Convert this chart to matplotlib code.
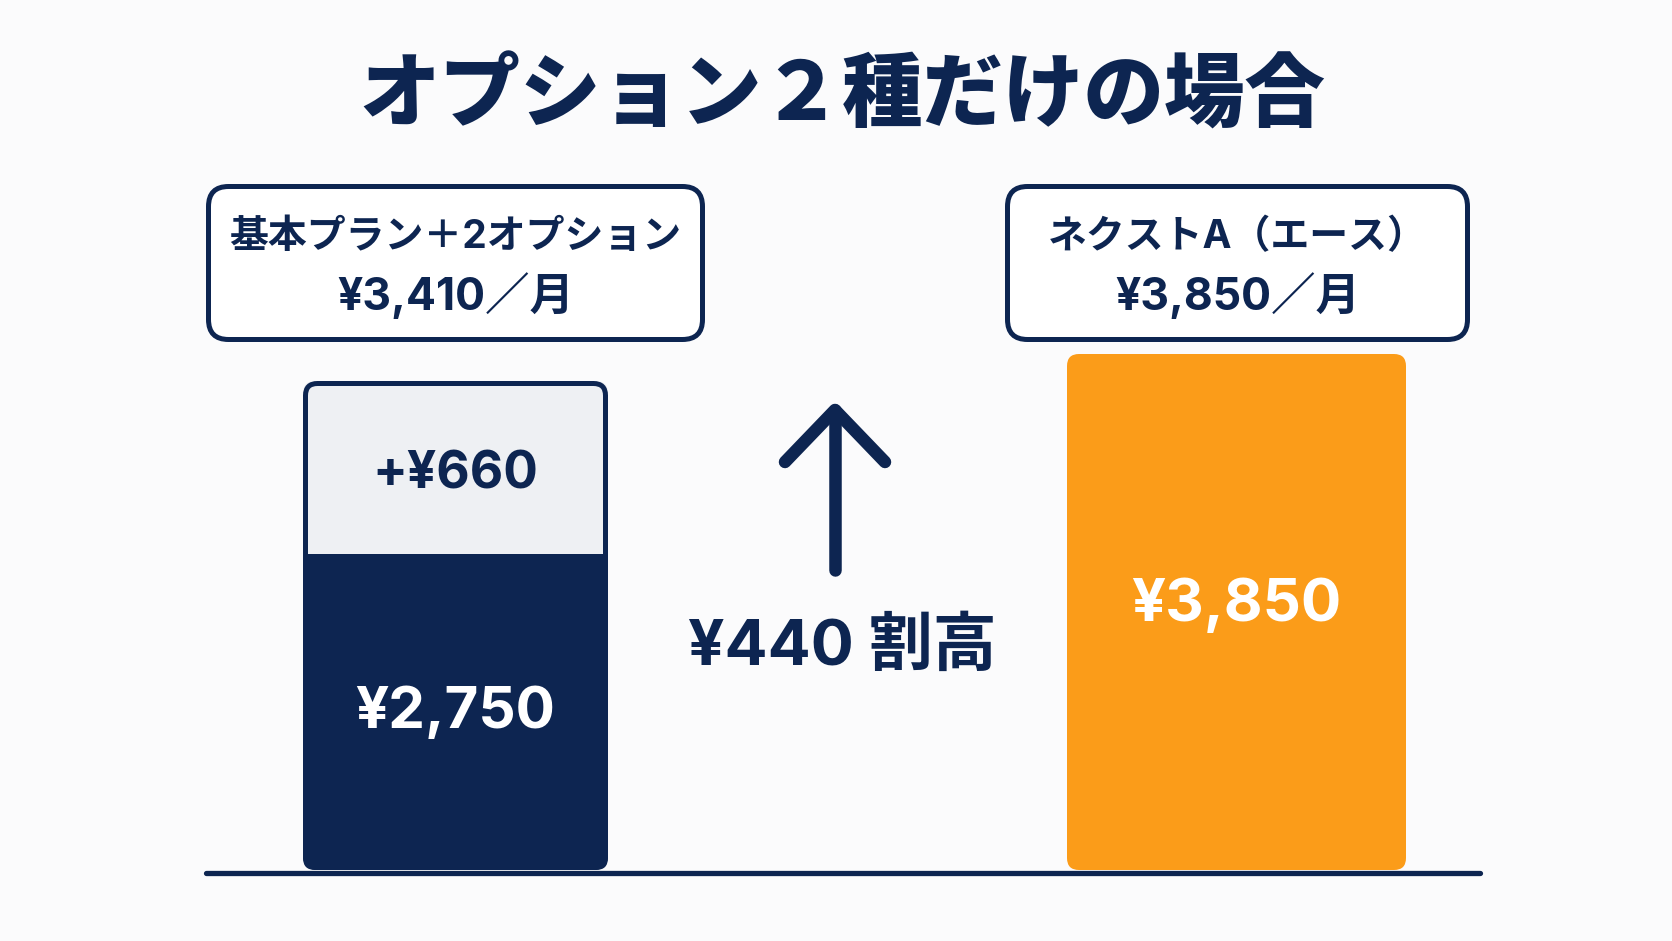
import numpy as np
import matplotlib
matplotlib.use("Agg")
import matplotlib.pyplot as plt
from matplotlib.patches import FancyBboxPatch, Rectangle

plt.rcParams['font.family'] = ['Noto Sans CJK JP', 'DejaVu Sans']
MIX = ['Inter', 'Noto Sans CJK JP', 'DejaVu Sans']

# ---------------- data ----------------
title = "オプション２種だけの場合"
plan_names = ["基本プラン＋2オプション", "ネクストA（エース）"]
base_price = 2750
option_price = 660
nexta_price = 3850
totals = [base_price + option_price, nexta_price]
diff_label_suffix = "割高"

# ---------------- style ----------------
NAVY = "#0d2551"
ORANGE = "#fb9c19"
LIGHT = "#eef0f3"
BG = "#fbfbfc"
W, H = 1672, 941
DPI = 100

fig = plt.figure(figsize=(W / DPI, H / DPI), dpi=DPI, facecolor=BG)

# data axes for bars
ax_left, ax_right, ax_bottom, ax_top = 204, 1482, 870, 354  # pixel frame (from top)
ax = fig.add_axes([ax_left / W, (H - ax_bottom) / H,
                   (ax_right - ax_left) / W, (ax_bottom - ax_top) / H])
ax.set_facecolor("none")

# presentation scale (bars in the reference are not drawn proportionally)
vals_k = [0, base_price, totals[0], nexta_price]
pix_k = [0, 316, 489, 516]
fwd = lambda v: np.interp(v, vals_k, pix_k)
inv = lambda p: np.interp(p, pix_k, vals_k)
ax.set_yscale('function', functions=(fwd, inv))
ax.set_ylim(0, nexta_price)

xpos = np.array([0.0, 1.0])
unit = 781.0
ax.set_xlim(-(455.5 - ax_left) / unit, 1 + (ax_right - 1236.5) / unit)
widths = [305 / unit, 339 / unit]

b_base = ax.bar(xpos[0], base_price, width=widths[0], color=NAVY)
b_opt = ax.bar(xpos[0], option_price, bottom=base_price, width=widths[0], color=LIGHT)
b_next = ax.bar(xpos[1], nexta_price, width=widths[1], color=ORANGE)
ax.axis("off")

# overlay axes in pixel coords (y down)
ov = fig.add_axes([0, 0, 1, 1], zorder=5)
ov.set_xlim(0, W)
ov.set_ylim(H, 0)
ov.axis("off")
ov.patch.set_alpha(0)


def px(x, y):
    d = ax.transData.transform((x, y))
    return d[0], H - d[1]


def bar_box(rect):
    x0, y0 = rect.get_x(), rect.get_y()
    x1, y1 = x0 + rect.get_width(), y0 + rect.get_height()
    l, b = px(x0, y0)
    r, t = px(x1, y1)
    return l, t, r, b


# replace rectangles by rounded shapes
for c in (b_base, b_opt, b_next):
    for r in c:
        r.set_visible(False)

rad = 12
# left stacked bar
l, t, r, b = bar_box(b_opt[0])
lb, tb, rb, bb = bar_box(b_base[0])
ov.add_patch(FancyBboxPatch((l, t), r - l, bb - t,
                            boxstyle=f"round,pad=0,rounding_size={rad}",
                            fc=LIGHT, ec="none", zorder=2))
ov.add_patch(FancyBboxPatch((lb, tb), rb - lb, bb - tb,
                            boxstyle=f"round,pad=0,rounding_size={rad}",
                            fc=NAVY, ec="none", zorder=3))
ov.add_patch(Rectangle((lb, tb), rb - lb, 2 * rad, fc=NAVY, ec="none", zorder=3))
ov.add_patch(FancyBboxPatch((l + 2.5, t + 2.5), r - l - 5, bb - t - 5,
                            boxstyle=f"round,pad=0,rounding_size={rad}",
                            fc="none", ec=NAVY, lw=3.6, zorder=4))
# right bar
l2, t2, r2, b2 = bar_box(b_next[0])
ov.add_patch(FancyBboxPatch((l2, t2), r2 - l2, b2 - t2,
                            boxstyle=f"round,pad=0,rounding_size={rad}",
                            fc=ORANGE, ec="none", zorder=2))

# baseline
ov.plot([ax_left + 2, ax_right - 2], [872.5, 872.5], color=NAVY, lw=3.8,
        solid_capstyle="round", zorder=6)

# value labels inside bars
ov.text((l + r) / 2, (t + tb) / 2 + 7, f"+¥{option_price:,}", ha="center", va="center",
        fontsize=37, fontweight="bold", color=NAVY, family=MIX, zorder=7)
ov.text((lb + rb) / 2, (tb + bb) / 2 + 1, f"¥{base_price:,}", ha="center", va="center",
        fontsize=42, fontweight="bold", color="white", family=MIX, zorder=7)
ov.text((l2 + r2) / 2, (t2 + b2) / 2 - 7, f"¥{nexta_price:,}", ha="center", va="center",
        fontsize=43, fontweight="bold", color="white", family=MIX, zorder=7)

# label boxes
boxes = [(206, 184, 705, 342), (1005, 184, 1470, 342)]
for (bx0, by0, bx1, by1), name, tot in zip(boxes, plan_names, totals):
    ov.add_patch(FancyBboxPatch((bx0 + 2.5, by0 + 2.5), bx1 - bx0 - 5, by1 - by0 - 5,
                                boxstyle="round,pad=0,rounding_size=20",
                                fc="white", ec=NAVY, lw=3.6, zorder=4))
    cx = (bx0 + bx1) / 2
    ov.text(cx, 237, name, ha="center", va="center", fontsize=28,
            fontweight="bold", color=NAVY, family=MIX, zorder=7)
    ov.text(cx, 296, f"¥{tot:,}／月", ha="center", va="center", fontsize=32,
            fontweight="bold", color=NAVY, family=MIX, zorder=7)

# arrow + difference
ax_c = 835
ov.plot([ax_c, ax_c], [570, 410], color=NAVY, lw=9, solid_capstyle="round", zorder=6)
ov.plot([785, ax_c, 885], [462, 410, 462], color=NAVY, lw=9,
        solid_capstyle="round", solid_joinstyle="round", zorder=6)
ov.text(842, 648, f"¥{totals[1] - totals[0]:,} {diff_label_suffix}", ha="center",
        va="center", fontsize=46, fontweight="bold", color=NAVY, family=MIX, zorder=7)

# title
ov.text(W / 2 + 6, 97, title, ha="center", va="center", fontsize=58,
        fontweight="heavy", color=NAVY, zorder=7)

fig.savefig("out.png", dpi=DPI, facecolor=BG)
